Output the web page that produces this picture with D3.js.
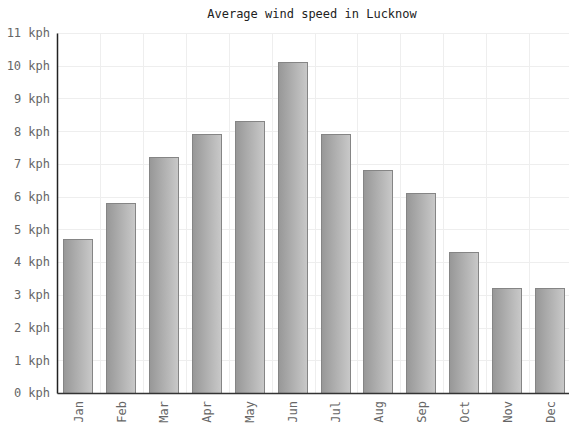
<!DOCTYPE html>
<html>
<head>
<meta charset="utf-8">
<script src="https://cdn.jsdelivr.net/npm/d3@7"></script>
<style>
  html, body { margin: 0; padding: 0; background: #fff; }
  svg { display: block; }
  text { font-family: "DejaVu Sans Mono", monospace; }
</style>
</head>
<body>
<svg id="chart" width="569" height="428"></svg>
<script>
// Monthly average wind speed (kph)
const months = ["Jan", "Feb", "Mar", "Apr", "May", "Jun", "Jul", "Aug", "Sep", "Oct", "Nov", "Dec"];
const windSpeed = [4.7, 5.8, 7.2, 7.9, 8.3, 10.1, 7.9, 6.8, 6.1, 4.3, 3.2, 3.2];
const yTicks = [0, 1, 2, 3, 4, 5, 6, 7, 8, 9, 10, 11];
const titleText = "Average wind speed in Lucknow";

const svg = d3.select("#chart");
const margin = { left: 57, top: 33, right: -3, bottom: 35 };
const width = 569, height = 428;

const x = d3.scaleBand()
  .domain(months)
  .range([margin.left, width - margin.right])
  .paddingInner(0)
  .paddingOuter(0);

const y = d3.scaleLinear()
  .domain([0, 11])
  .range([height - margin.bottom, margin.top]);

// bar fill: darker on the left, lighter on the right
const defs = svg.append("defs");
const grad = defs.append("linearGradient")
  .attr("id", "barGrad")
  .attr("x1", "0%").attr("x2", "100%")
  .attr("y1", "0%").attr("y2", "0%");
grad.append("stop").attr("offset", "0%").attr("stop-color", "#979797");
grad.append("stop").attr("offset", "100%").attr("stop-color", "#c9c9c9");

// grid
const grid = svg.append("g");
grid.selectAll("line.h")
  .data(yTicks)
  .join("line")
  .attr("class", "h")
  .attr("x1", margin.left).attr("x2", width)
  .attr("y1", d => Math.round(y(d)) + 0.5)
  .attr("y2", d => Math.round(y(d)) + 0.5)
  .attr("stroke", "#eeeeee");
grid.selectAll("line.v")
  .data(months)
  .join("line")
  .attr("class", "v")
  .attr("x1", d => Math.round(x(d)) + 0.5)
  .attr("x2", d => Math.round(x(d)) + 0.5)
  .attr("y1", y(11)).attr("y2", y(0))
  .attr("stroke", "#eeeeee");

// bars
const barOffset = 6, barWidth = 29;
svg.append("g")
  .selectAll("rect")
  .data(windSpeed)
  .join("rect")
  .attr("x", (d, i) => Math.round(x(months[i]) + barOffset) + 0.5)
  .attr("y", d => Math.round(y(d)) + 0.5)
  .attr("width", barWidth)
  .attr("height", d => Math.round(y(0)) - Math.round(y(d)))
  .attr("fill", "url(#barGrad)")
  .attr("stroke", "#858585")
  .attr("stroke-width", 1);

// y axis
const yAxis = svg.append("g")
  .attr("transform", `translate(${margin.left},0)`)
  .call(d3.axisLeft(y).tickValues(yTicks).tickSize(0).tickPadding(7).tickFormat(d => d + " kph"));
yAxis.select(".domain").attr("stroke", "#222").attr("stroke-width", 1.5);
yAxis.selectAll("text")
  .attr("fill", "#666")
  .style("font-size", "12px");

// x axis
const xAxis = svg.append("g")
  .attr("transform", `translate(0,${y(0)})`)
  .call(d3.axisBottom(x).tickSize(0).tickPadding(0));
xAxis.select(".domain").attr("stroke", "#333").attr("stroke-width", 1.5);
xAxis.selectAll("text")
  .attr("fill", "#666")
  .style("font-size", "12px")
  .attr("transform", "rotate(-90)")
  .attr("text-anchor", "end")
  .attr("x", -8)
  .attr("y", 0)
  .attr("dy", "0.35em");

// title
svg.append("text")
  .attr("x", 312)
  .attr("y", 18)
  .attr("text-anchor", "middle")
  .attr("fill", "#222")
  .style("font-size", "12px")
  .text(titleText);
</script>
</body>
</html>
